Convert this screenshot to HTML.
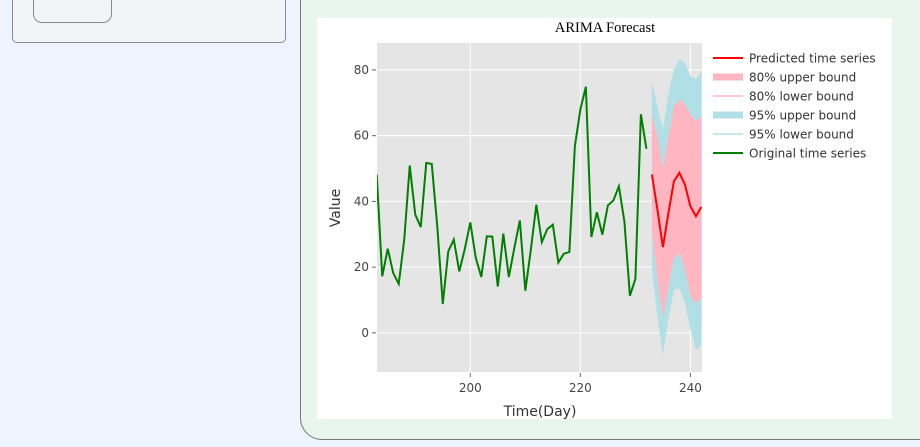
<!DOCTYPE html>
<html><head><meta charset="utf-8"><style>
body{margin:0;width:920px;height:447px;background:#eef4fd;position:relative;overflow:hidden;font-family:"DejaVu Sans","Liberation Sans",sans-serif}
#card{position:absolute;left:12px;top:-20px;width:272px;height:61px;background:#f3f4f8;border:1px solid #8a8a8a;border-radius:5px}
#btn{position:absolute;left:20px;top:0px;width:77px;height:40px;border:1px solid #8a8a8a;border-radius:9px}
#panel{position:absolute;left:300px;top:-30px;width:640px;height:468px;background:#e9f6ef;border:1px solid #777;border-radius:22px}
#chart{position:absolute;left:317px;top:18px;width:575px;height:401px;background:#fff}
</style></head><body>
<div id="card"><div id="btn"></div></div>
<div id="panel"></div>
<svg id="chart" width="575" height="401" viewBox="317 18 575 401"></svg>
<script>
const origDays=[183,184,185,186,187,188,189,190,191,192,193,194,195,196,197,198,199,200,201,202,203,204,205,206,207,208,209,210,211,212,213,214,215,216,217,218,219,220,221,222,223,224,225,226,227,228,229,230,231,232];
const origValues=[48.2,17.2,25.6,18.2,14.9,28.4,50.9,36,32.2,51.7,51.4,32.4,8.8,24.8,28.4,18.7,25.5,33.6,22.8,17,29.4,29.3,14.1,30.2,17,25.8,34.2,12.8,25.3,39,27.6,31.6,32.9,21.4,24.1,24.6,56.8,68,74.9,29.2,36.7,29.9,38.8,40.3,44.6,33.9,11.3,16.4,66.5,56];
const fcDays=[233,234,235,236,237,238,239,240,241,242];
const predicted=[48.2,37.5,26.1,36.5,46.1,48.7,45.1,38.5,35.5,38.3];
const upper80=[66.2,59.8,50.2,59.8,69,71,69.5,66.5,64.4,65.8];
const lower80=[30.4,16.2,4.5,14.1,22.8,24.3,19.2,11.1,9,10.6];
const upper95=[76.1,69,61.9,72.6,80.2,83.2,82.2,78.2,77.1,79.7];
const lower95=[19.2,5,-6.7,4,13.1,13.6,9,0.9,-5.2,-3.7];
const xTicks=[200,220,240];
const yTicks=[0,20,40,60,80];
const legendLabels=["Predicted time series","80% upper bound","80% lower bound","95% upper bound","95% lower bound","Original time series"];
const legendColors=["#ff0000","#ffb6c1","#ffb6c1","#b0e0e6","#b0e0e6","#008000"];
const legendWidths=[2,7,1.5,7,1.5,2];

const NS="http://www.w3.org/2000/svg";
const svg=document.getElementById('chart');
const L=377,R=702,T=43,B=372,X0=183.05,X1=242.1,Y0=-11.9,Y1=88.2;
const sx=d=>L+(d-X0)/(X1-X0)*(R-L);
const sy=v=>B-(v-Y0)/(Y1-Y0)*(B-T);
function mk(tag,attrs,parent){const e=document.createElementNS(NS,tag);for(const k in attrs)e.setAttribute(k,attrs[k]);(parent||svg).appendChild(e);return e;}
const bg=mk('rect',{x:L,y:T,width:R-L,height:B-T,fill:'#e5e5e5'});


const clip=mk('clipPath',{id:'c'});mk('rect',{x:L,y:T,width:R-L,height:B-T},clip);
xTicks.forEach(t=>{const g=mk('line',{x1:sx(t),x2:sx(t),y1:T,y2:B,stroke:'#fff','stroke-width':1});


mk('line',{x1:sx(t),x2:sx(t),y1:B+1,y2:B+5,stroke:'#666'});
const tx=mk('text',{x:sx(t),y:B+20,'text-anchor':'middle','font-size':12,fill:'#444'});tx.textContent=t;

});
yTicks.forEach(t=>{const g=mk('line',{x1:L,x2:R,y1:sy(t),y2:sy(t),stroke:'#fff','stroke-width':1});


mk('line',{x1:L-5,x2:L-1,y1:sy(t),y2:sy(t),stroke:'#666'});
const tx=mk('text',{x:L-8,y:sy(t)+4,'text-anchor':'end','font-size':12,fill:'#444'});tx.textContent=t;

});
function band(up,lo,color,name){let d='M'+fcDays.map((x,i)=>sx(x)+','+sy(up[i])).join('L');
for(let i=fcDays.length-1;i>=0;i--)d+='L'+sx(fcDays[i])+','+sy(lo[i]);
const p=mk('path',{d:d+'Z',fill:color,'clip-path':'url(#c)'});

}
band(upper95,lower95,'#b0e0e6','band-95');
band(upper80,lower80,'#ffb6c1','band-80');
function line(xs,ys,color,name){const p=mk('polyline',{points:xs.map((x,i)=>sx(x)+','+sy(ys[i])).join(' '),fill:'none',stroke:color,'stroke-width':2,'clip-path':'url(#c)'});

}
line(origDays,origValues,'#008000','original-series-line');
line(fcDays,predicted,'#ff0000','predicted-series-line');
const title=mk('text',{x:605,y:32,'text-anchor':'middle','font-size':14.5,'font-family':'Liberation Serif,serif',fill:'#000'});title.textContent='ARIMA Forecast';


const xt=mk('text',{x:540,y:416,'text-anchor':'middle','font-size':14,fill:'#333'});xt.textContent='Time(Day)';


const yt=mk('text',{x:340,y:208,'text-anchor':'middle','font-size':14,fill:'#333',transform:'rotate(-90 340 208)'});yt.textContent='Value';


legendLabels.forEach((lab,i)=>{const y=58+i*19;
const g=mk('g',{});


mk('line',{x1:713,x2:743,y1:y,y2:y,stroke:legendColors[i],'stroke-width':legendWidths[i]},g);
const t=mk('text',{x:749,y:y+4.5,'font-size':12,fill:'#333'},g);t.textContent=lab;});
</script>
</body></html>
